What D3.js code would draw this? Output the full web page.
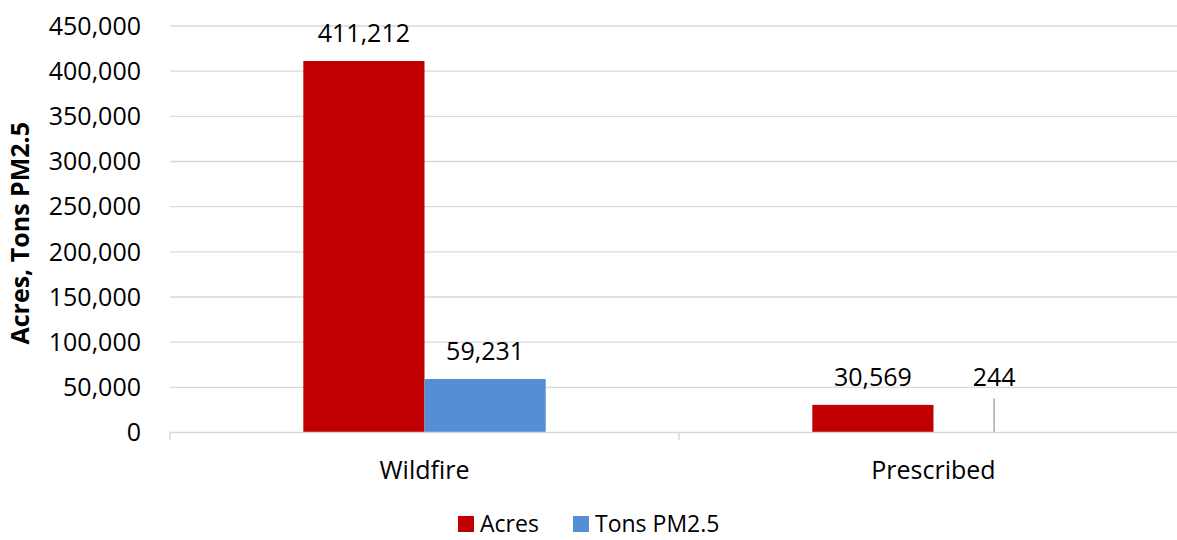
<!DOCTYPE html>
<html>
<head>
<meta charset="utf-8">
<script src="https://cdn.jsdelivr.net/npm/d3@7"></script>
<style>
  body { margin: 0; background: #fff; }
  svg text { font-family: "Open Sans", "Noto Sans", sans-serif; fill: #000; }
</style>
</head>
<body>
<svg id="chart"></svg>
<script>
const categories = ["Wildfire", "Prescribed"];
const seriesNames = ["Acres", "Tons PM2.5"];
const acres = [411212, 30569];
const tonsPM25 = [59231, 244];
const yTicks = [0, 50000, 100000, 150000, 200000, 250000, 300000, 350000, 400000, 450000];
const colors = ["#c00000", "#558ed5"];

const W = 1177, H = 540;
const margin = { top: 26, left: 170 };
const plotW = 1018, plotH = 406.5;

const svg = d3.select("#chart").attr("width", W).attr("height", H);
const g = svg.append("g").attr("transform", `translate(${margin.left},${margin.top})`);

const data = categories.map((c, i) => ({
    category: c,
    values: [{ key: seriesNames[0], value: acres[i] }, { key: seriesNames[1], value: tonsPM25[i] }]
}));

const x0 = d3.scaleBand().domain(categories).range([0, plotW]).paddingInner(0).paddingOuter(0);
const x1 = d3.scaleBand().domain(seriesNames).range([0, x0.bandwidth()]).paddingInner(0).paddingOuter(1.1);
const y = d3.scaleLinear().domain([0, 450000]).range([plotH, 0]);
const color = d3.scaleOrdinal().domain(seriesNames).range(colors);
const fmt = d3.format(",.0f");

// gridlines
g.selectAll(".grid")
    .data(yTicks.filter(d => d > 0))
    .enter().append("line")
    .attr("x1", 0).attr("x2", W - margin.left)
    .attr("y1", d => y(d)).attr("y2", d => y(d))
    .attr("stroke", "#d9d9d9").attr("stroke-width", 1.3);

// y tick labels
g.selectAll(".ytick")
    .data(yTicks)
    .enter().append("text")
    .attr("x", -29)
    .attr("y", d => y(d))
    .attr("dy", "0.35em")
    .attr("text-anchor", "end")
    .style("font-size", "25px")
    .text(d => fmt(d));

// bars
const groups = g.selectAll(".grp")
    .data(data)
    .enter().append("g")
    .attr("transform", d => `translate(${x0(d.category)},0)`);

groups.selectAll("rect")
    .data(d => d.values)
    .enter().append("rect")
    .attr("x", d => x1(d.key))
    .attr("width", x1.bandwidth())
    .attr("y", d => y(d.value))
    .attr("height", d => plotH - y(d.value))
    .attr("fill", d => color(d.key));

// value labels
groups.selectAll(".lbl")
    .data(d => d.values)
    .enter().append("text")
    .attr("x", d => x1(d.key) + x1.bandwidth() / 2)
    .attr("y", d => d.value < 5000 ? plotH - 55 : y(d.value) - 28)
    .attr("dy", "0.35em")
    .attr("text-anchor", "middle")
    .style("font-size", "25px")
    .text(d => fmt(d.value));

// leader line for tiny value
groups.selectAll(".leader")
    .data(d => d.values.filter(v => v.value < 5000))
    .enter().append("line")
    .attr("x1", d => x1(d.key) + x1.bandwidth() / 2)
    .attr("x2", d => x1(d.key) + x1.bandwidth() / 2)
    .attr("y1", plotH - 34)
    .attr("y2", d => y(d.value))
    .attr("stroke", "#a6a6a6").attr("stroke-width", 1.5);

// x axis
g.append("line")
    .attr("x1", 0).attr("x2", W - margin.left)
    .attr("y1", plotH).attr("y2", plotH)
    .attr("stroke", "#d9d9d9").attr("stroke-width", 1.5);

g.selectAll(".xtick")
    .data(categories.concat(["end"]))
    .enter().append("line")
    .attr("x1", (d, i) => i * x0.step()).attr("x2", (d, i) => i * x0.step())
    .attr("y1", plotH).attr("y2", plotH + 8)
    .attr("stroke", "#d9d9d9").attr("stroke-width", 1.5);

g.selectAll(".xlbl")
    .data(categories)
    .enter().append("text")
    .attr("x", d => x0(d) + x0.bandwidth() / 2)
    .attr("y", plotH + 38)
    .attr("dy", "0.35em")
    .attr("text-anchor", "middle")
    .style("font-size", "25px")
    .text(d => d);

// y axis title
svg.append("text")
    .attr("transform", `translate(29,${margin.top + plotH / 2 + 4}) rotate(-90)`)
    .attr("text-anchor", "middle")
    .style("font-size", "25px")
    .style("font-weight", "bold")
    .text("Acres, Tons PM2.5");

// legend
const legendX = [458, 573];
const legend = svg.selectAll(".leg")
    .data(seriesNames)
    .enter().append("g")
    .attr("transform", (d, i) => `translate(${legendX[i]},516)`);

legend.append("rect")
    .attr("width", 16).attr("height", 16)
    .attr("fill", d => color(d));

legend.append("text")
    .attr("x", 22).attr("y", 8)
    .attr("dy", "0.35em")
    .style("font-size", "23px")
    .text(d => d);
</script>
</body>
</html>
